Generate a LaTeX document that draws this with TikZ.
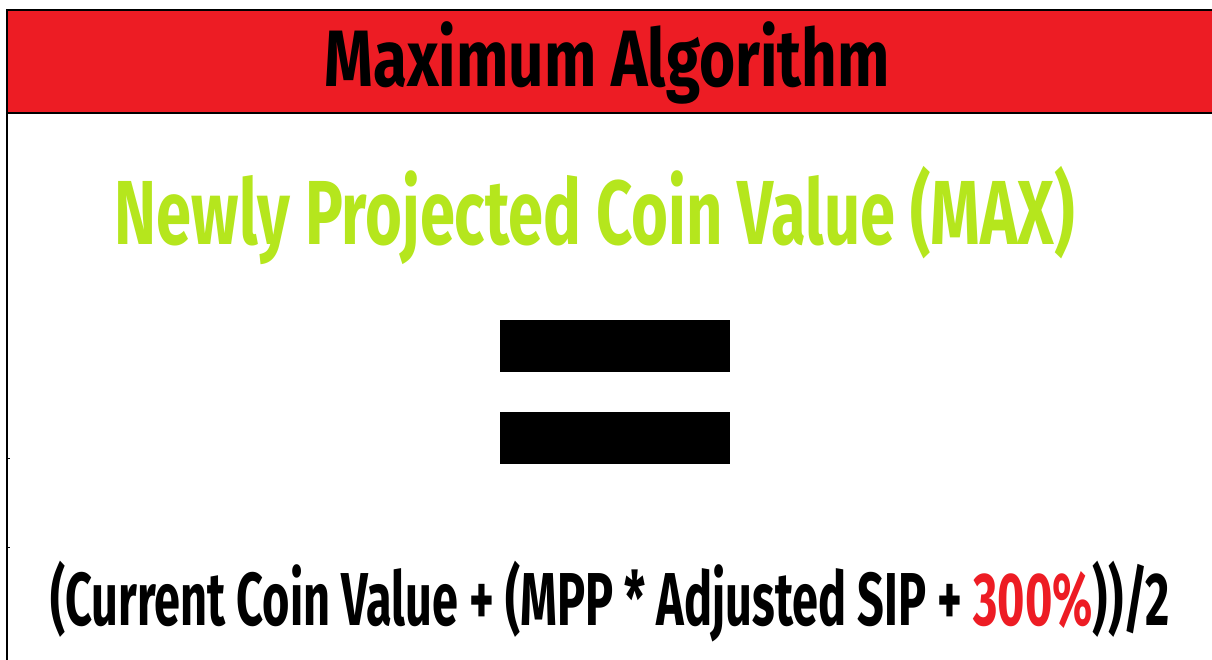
\documentclass[tikz,border=0pt]{standalone}
\usepackage{fontspec}
\usepackage{graphicx}
\setmainfont{Fira Sans}
\definecolor{hdrred}{HTML}{ED1C24}
\definecolor{limegreen}{HTML}{B5E61D}
\begin{document}
\begin{tikzpicture}[x=1pt,y=-1pt,
  txt/.style={inner sep=0pt,anchor=base,font=\bfseries},
  bar/.style={fill=black,draw=none},
  frame/.style={line width=1.8pt,draw=black}]
\useasboundingbox (0,0) rectangle (1212,660);
\fill[white] (0,0) rectangle (1212,660);
% header band
\fill[hdrred] (7,10) rectangle (1212,113);
\draw[frame] (1212,10) -- (7,10) -- (7,660);
\draw[frame] (7,113) -- (1212,113);
\draw[line width=0.8pt] (7,458) -- (10,458);
\draw[line width=0.8pt] (7,547) -- (10,547);
% title
\node[txt] (title) at (607,87) {\resizebox{565pt}{\height}{\fontsize{80}{80}\selectfont Maximum Algorithm}};
% green line
\node[txt,text=limegreen] (lhs) at (595,245) {\resizebox{960pt}{\height}{\fontsize{91}{91}\selectfont Newly Projected Coin Value (MAX)}};
% equals sign
\node[bar,minimum width=230pt,minimum height=52pt,inner sep=0pt] (eqtop) at (615,346) {};
\node[bar,minimum width=230pt,minimum height=52pt,inner sep=0pt] (eqbot) at (615,438) {};
% formula
\node[txt] (rhs) at (610,625) {\resizebox{1120pt}{\height}{\fontsize{75}{75}\selectfont (Current Coin Value + (MPP * Adjusted SIP + \textcolor{hdrred}{300\%}))/2}};
\end{tikzpicture}
\end{document}
